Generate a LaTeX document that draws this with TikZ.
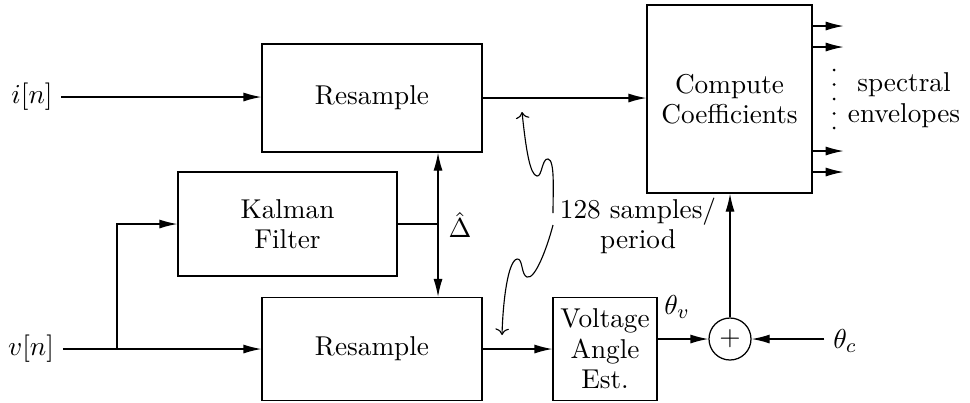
\documentclass[tikz,border=0pt]{standalone}
\usetikzlibrary{arrows.meta}
\begin{document}
\begin{tikzpicture}[x=0.4pt, y=-0.4pt, line width=0.5pt,
  every node/.style={font=\fontsize{10.9}{12.2}\selectfont},
  block/.style={draw,align=center,inner sep=1pt},
  arr/.style={-{Latex[length=7.2pt,width=3.6pt]}},
  wiggle/.style={->,line width=0.45pt}]
\useasboundingbox (0,0) rectangle (970,402);
% blocks
\node[block,minimum width=88pt,minimum height=43.2pt] (rsi) at (372,98) {Resample};
\node[block,minimum width=87.6pt,minimum height=41.6pt] (kal) at (287.5,224) {Kalman\\Filter};
\node[block,minimum width=88pt,minimum height=41.2pt] (rsv) at (372,349) {Resample};
\node[block,minimum width=41.6pt,minimum height=41.2pt,inner sep=0pt] (vae) at (605,349) {Voltage\\Angle\\Est.};
\node[block,minimum width=66pt,minimum height=75.2pt] (cc) at (729.5,99) {Compute\\Coefficients};
\node[draw,circle,minimum size=16.8pt,inner sep=0pt] (sum) at (730,339) {$+$};
% signals and labels
\node (iin) at (32,97) {$i[n]$};
\node (vin) at (31,349) {$v[n]$};
\node (thc) at (845,341) {$\theta_c$};
\node (thv) at (677,307) {$\theta_v$};
\node (dlt) at (460,225) {$\hat{\Delta}$};
\node[align=center] (spec) at (904,100) {spectral\\envelopes};
\node[align=center] (spp) at (638,226) {128 samples/\\period};
\coordinate (split) at (117,349);
\coordinate (kout) at (438,224);
% connectors
\draw[arr] (iin.east) -- (iin.east -| rsi.west);
\draw[arr] (rsi.east) -- (rsi.east -| cc.west);
\draw[arr] (vin) -- (rsv);
\draw[arr] (split) |- (kal.west);
\draw (kal.east) -- (kout);
\draw[{Latex[length=7.2pt,width=3.6pt]}-{Latex[length=7.2pt,width=3.6pt]}] (rsi.south -| kout) -- (rsv.north -| kout);
\draw[arr] (rsv) -- (vae);
\draw[arr] (vae.east |- sum) -- (sum.west);
\draw[arr] (sum -| thc.west) -- (sum.east);
\draw[arr] (sum.north) -- (sum.north |- cc.south);
\foreach \y in {26,47,151,172}
  \draw[arr] (cc.east |- 0,\y) -- ++(31,0);
\foreach \y in {70,84.5,99,113.5,128}
  \fill (834,\y) circle (0.6pt);
% wiggly pointers to the sample streams
\draw[wiggle] (553,213) .. controls (553,190) and (555,160) .. (548,159)
  .. controls (542,158) and (542,177) .. (537,176)
  .. controls (530,175) and (526,150) .. (522,112);
\draw[wiggle] (553,225) .. controls (547,248) and (535,280) .. (527,277)
  .. controls (521,275) and (523,258) .. (517,259)
  .. controls (508,261) and (503,300) .. (502,335);
\end{tikzpicture}
\end{document}
